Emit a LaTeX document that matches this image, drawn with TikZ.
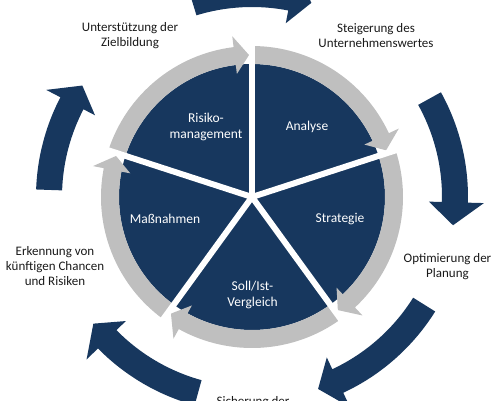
\documentclass[tikz,border=0pt]{standalone}
\usepackage{fontspec}
\setmainfont{Carlito}
\usepackage{tikz}
\usetikzlibrary{positioning}
\definecolor{darknavy}{HTML}{17375E}
\definecolor{ringgray}{HTML}{BFBFBF}
\tikzset{
  outerlabel/.style={align=center,text=black!90,font=\fontsize{13}{15}\selectfont,inner sep=0pt},
  innerlabel/.style={align=center,text=white,font=\fontsize{13.5}{16.5}\selectfont,inner sep=0pt},
  spoke/.style={draw=white,line width=6pt},
  ringarrow/.style={fill=ringgray},
  cyclearrow/.style={fill=darknavy}
}
% style, start, head base, tip, r in, r out, head in, head out
\newcommand{\bentarrow}[8]{%
  \path[#1] (#2:#6) arc[start angle=#2,end angle=#3,radius=#6] -- (#3:#8)
    -- (#4:{(#5+#6)/2}) -- (#3:#7) -- (#3:#5)
    arc[start angle=#3,end angle=#2,radius=#5] -- cycle;}

\begin{document}
\begin{tikzpicture}[x=1pt,y=1pt]
  \useasboundingbox (-252,-203) rectangle (243,197);
  \clip (-252,-203) rectangle (243,197);
  \coordinate (hub) at (0,0);

  \fill[darknavy] (hub) circle[radius=133];
  \foreach \a [evaluate=\a as \b using \a-65, evaluate=\a as \t using \a-70.8] in {90,18,-54,-126,162}
    \bentarrow{ringarrow}{\a}{\b}{\t}{133}{151}{124}{162};
  \foreach \a in {90,18,-54,-126,162}
    \draw[spoke] (hub) -- (\a:165);

  \foreach \s/\b/\t in {107/79/73,29/-1.5/-8,-32/-65/-71,254.6/224.5/218.6,178/152.5/146.7}
    \bentarrow{cyclearrow}{\s}{\b}{\t}{190}{216}{177}{232};

  \node[innerlabel] (risiko) at (-46,70) {Risiko-\\management};
  \node[innerlabel] (analyse) at (55,70) {Analyse};
  \node[innerlabel] (strategie) at (88,-22) {Strategie};
  \node[innerlabel] (vergleich) at (0.5,-98) {Soll/Ist-\\Vergleich};
  \node[innerlabel] (massnahmen) at (-87,-22) {Maßnahmen};

  \node[outerlabel] (ziel) at (-122,161.5) {Unterstützung der\\Zielbildung};
  \node[outerlabel] (wert) at (124,161.5) {Steigerung des\\Unternehmenswertes};
  \node[outerlabel] (planung) at (195.5,-69.5) {Optimierung der\\Planung};
  \node[outerlabel] (chancen) at (-197,-69.5) {Erkennung von\\künftigen Chancen\\und Risiken};
  \node[outerlabel,anchor=base] (sicherung) at (1,-208) {Sicherung der};
\end{tikzpicture}
\end{document}
